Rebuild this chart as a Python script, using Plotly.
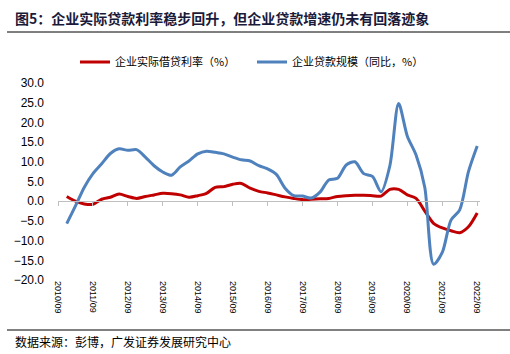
import plotly.graph_objects as go

# quarterly periods 2010/12 .. 2022/09
periods = [f"{y}/{m:02d}" for y in range(2010, 2023) for m in (3, 6, 9, 12)]
periods = [p for p in periods if "2010/12" <= p <= "2022/09"]

rate = [1.2, 0.0, -0.7, -0.8, 0.5, 1.0, 1.8, 1.2, 0.7, 1.2, 1.6, 2.0,
        1.9, 1.6, 1.0, 1.4, 2.0, 3.5, 3.7, 4.3, 4.5, 3.3, 2.5, 2.1,
        1.6, 1.1, 0.7, 0.4, 0.5, 0.6, 0.7, 1.2, 1.4, 1.5, 1.5, 1.4,
        1.3, 3.0, 3.0, 1.6, 0.7, -2.5, -5.6, -6.8, -7.5, -8.0, -6.5, -3.0]

loans = [-5.7, -1.2, 3.5, 7.0, 9.5, 12.1, 13.3, 12.9, 13.1, 11.2, 9.0, 7.4,
         6.6, 8.7, 10.2, 12.0, 12.7, 12.4, 12.0, 11.2, 10.5, 10.2, 9.0, 8.2,
         6.8, 3.3, 1.4, 1.3, 0.8, 2.3, 5.4, 5.8, 9.2, 10.0, 7.0, 6.3,
         2.4, 9.0, 24.8, 16.5, 11.7, 3.5, -16.0, -13.0, -4.8, -2.2, 7.5, 14.0]

tick_labels = [f"{y}/09" for y in range(2010, 2023)]

name_rate = "企业实际借贷利率（%）"
name_loans = "企业贷款规模（同比，%）"
title = "图5：企业实际贷款利率稳步回升，但企业贷款增速仍未有回落迹象"
source = "数据来源：彭博，广发证券发展研究中心"


def to_num(p):
    y, m = p.split("/")
    return int(y) + (int(m) - 9) / 12.0 + 0.75


xs = [to_num(p) for p in periods]
tickvals = [to_num(t) for t in tick_labels]
xrange_ = [to_num("2010/09"), to_num("2022/09") + 0.08]

RED = "#C00000"
BLUE = "#4F81BD"
FONT = "Liberation Sans, Arial, sans-serif"
CJK = "Noto Sans CJK SC"

fig = go.Figure()
fig.add_trace(go.Scatter(x=xs, y=rate, mode="lines", name=name_rate,
                         line=dict(color=RED, width=3, shape="spline", smoothing=0.8),
                         hoverinfo="skip"))
fig.add_trace(go.Scatter(x=xs, y=loans, mode="lines", name=name_loans,
                         line=dict(color=BLUE, width=3, shape="spline", smoothing=0.8),
                         hoverinfo="skip"))
# invisible trace to attach the zero-position axis
fig.add_trace(go.Scatter(x=xs, y=rate, mode="lines", xaxis="x2", showlegend=False,
                         line=dict(width=0), opacity=0, hoverinfo="skip"))

fig.update_layout(
    width=510, height=354,
    margin=dict(l=58, r=30, t=83, b=74),
    paper_bgcolor="white", plot_bgcolor="white",
    font=dict(family=FONT, color="#000000"),
    showlegend=True,
    legend=dict(orientation="h", x=(75 - 58) / 422, xanchor="left",
                y=(280 - 62) / 197, yanchor="middle",
                font=dict(family=CJK, size=11, color="#000000"),
                entrywidth=132, entrywidthmode="pixels",
                itemwidth=30, bgcolor="rgba(0,0,0,0)", tracegroupgap=0),
    xaxis=dict(range=xrange_, tickmode="array", tickvals=tickvals, ticktext=tick_labels,
               tickangle=90, tickfont=dict(size=9, family=FONT, color="#000000"),
               showgrid=False, zeroline=False, showline=False, ticks=""),
    xaxis2=dict(range=xrange_, overlaying="x", anchor="free", position=0.4,
                tickmode="array", tickvals=tickvals, showticklabels=False,
                showline=True, linecolor="#BFBFBF", linewidth=1,
                ticks="outside", ticklen=4, tickcolor="#BFBFBF",
                showgrid=False, zeroline=False),
    yaxis=dict(range=[-20, 30], dtick=5, tickformat=".1f",
               tickfont=dict(size=12, family=FONT, color="#000000"),
               showgrid=False, zeroline=False, showline=False, ticks="",
               ticklabelstandoff=13),
)

fig.add_annotation(text="<b>" + title + "</b>", xref="paper", yref="paper",
                   x=(13 - 58) / 422, y=(280 - 18) / 197, xanchor="left", yanchor="middle",
                   showarrow=False, font=dict(family=CJK, size=14, color="#1a1a3a"))
fig.add_annotation(text=source, xref="paper", yref="paper",
                   x=(13 - 58) / 422, y=(280 - 341) / 197, xanchor="left", yanchor="middle",
                   showarrow=False, font=dict(family=CJK, size=12, color="#000000"))

for ypix in (32, 330):
    fig.add_shape(type="line", xref="paper", yref="paper",
                  x0=(7 - 58) / 422, x1=(510 - 58) / 422,
                  y0=(280 - ypix) / 197, y1=(280 - ypix) / 197,
                  line=dict(color="#000000", width=1))

fig.write_html("out.html")
